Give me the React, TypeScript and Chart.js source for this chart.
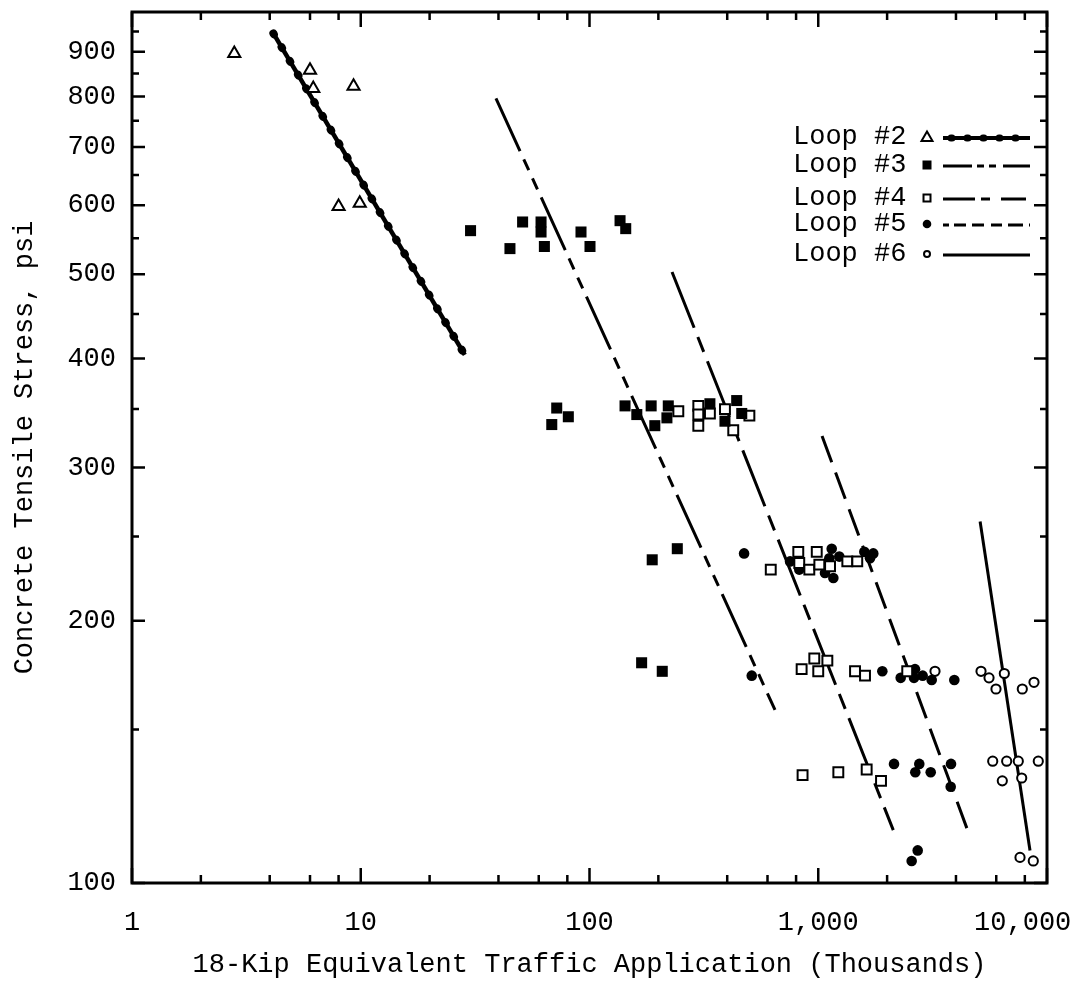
import { useEffect, useRef } from 'react';
import { Chart, registerables } from 'chart.js';

Chart.register(...registerables);

const FONT = '"Liberation Mono", "DejaVu Sans Mono", monospace';

// ---- measured points (x: thousands of 18-kip applications, y: psi) ----
const LOOP2_X = [2.8, 6.0, 6.2, 9.3, 8.0, 9.9];
const LOOP2_Y = [896, 857, 817, 822, 598, 603];

const LOOP3_X = [30.2, 44.9, 51.0, 61.4, 61.4, 63.5, 91.8, 100.5, 136, 144,
  71.9, 80.8, 68.4, 143, 161, 186, 193, 221, 218, 336, 391, 440, 463,
  188, 242, 169, 208];
const LOOP3_Y = [561, 535, 574, 574, 559, 538, 559, 538, 576, 564,
  351, 343, 336, 353, 345, 353, 335, 353, 342, 355, 339, 358, 346,
  235, 242, 179, 175];

const LOOP4_X = [244.5, 299, 299, 299, 336, 391, 425, 500,
  620, 818, 826, 914, 985, 1011, 1126, 1340, 1481,
  846, 961, 1000, 1096, 1448, 1601, 2449,
  854, 1224, 1628, 1881];
const LOOP4_Y = [348, 353, 345, 335, 346, 350, 331, 344,
  229, 240, 233, 229, 240, 232, 231, 234, 234,
  176, 181, 175, 180, 175, 173, 175,
  133, 134, 135, 131];

const LOOP5_X = [474, 753, 826, 1070, 1118, 1145, 1164, 1236, 1590, 1684, 1740,
  512, 1906, 2293, 2648, 2622, 2861, 3133, 3934,
  2144, 2765, 2656, 3102, 3805, 3793,
  2721, 2561];
const LOOP5_Y = [239, 234, 229, 227, 236, 242, 224, 237, 240, 236, 239,
  173, 175, 172, 176, 172, 173, 171, 171,
  137, 137, 134, 134, 137, 129,
  109, 106];

const LOOP6_X = [3239, 5147, 5579, 5984, 6508, 7799, 8773,
  5790, 6377, 6664, 7490, 7752, 9160,
  7621, 8711];
const LOOP6_Y = [175, 175, 172, 167, 174, 167, 170,
  138, 131, 138, 138, 132, 138,
  107, 106];

// ---- fatigue lines (end points) ----
const LINE2_X = [4.15, 28.5];
const LINE2_Y = [945, 404];
const LINE3_X = [39, 647];
const LINE3_Y = [796, 158];
const LINE4_X = [229.5, 2128];
const LINE4_Y = [503, 115];
const LINE5_X = [1039, 4608];
const LINE5_Y = [326, 113];
const LINE6_X = [5100, 8427];
const LINE6_Y = [260, 109];

// ---- axes ----
const X_TICKS = [1, 2, 4, 6, 8, 10, 20, 40, 60, 80, 100, 200, 400, 600, 800,
  1000, 2000, 4000, 6000, 8000, 10000];
const X_TICK_LABELS: Record<number, string> = {
  1: '1', 10: '10', 100: '100', 1000: '1,000', 10000: '10,000   ',
};
const Y_TICKS = [100, 150, 200, 250, 300, 350, 400, 450, 500, 550, 600, 650,
  700, 750, 800, 850, 900, 950];
const Y_TICK_LABELS: Record<number, string> = {
  100: '100', 200: '200', 300: '300', 400: '400', 500: '500',
  600: '600', 700: '700', 800: '800', 900: '900',
};
const X_TITLE = '18-Kip Equivalent Traffic Application (Thousands)';
const Y_TITLE = 'Concrete Tensile Stress, psi';

const LEGEND_LABELS = ['Loop #2', 'Loop #3', 'Loop #4', 'Loop #5', 'Loop #6'];

const pts = (xs: number[], ys: number[]) => xs.map((x, i) => ({ x, y: ys[i] }));
const isDecade = (v: number) => Math.abs(Math.log10(v) - Math.round(Math.log10(v))) < 1e-9;

type MarkerKind = 'triangle' | 'squareFilled' | 'squareOpen' | 'dotFilled' | 'dotOpen';

function drawMarker(ctx: CanvasRenderingContext2D, kind: MarkerKind, x: number, y: number) {
  ctx.save();
  ctx.lineWidth = 2;
  ctx.strokeStyle = '#000';
  ctx.beginPath();
  if (kind === 'triangle') {
    ctx.moveTo(x, y - 5.5);
    ctx.lineTo(x + 5.5, y + 4);
    ctx.lineTo(x - 5.5, y + 4);
    ctx.closePath();
    ctx.fillStyle = '#fff';
    ctx.fill();
    ctx.stroke();
  } else if (kind === 'squareFilled') {
    ctx.fillStyle = '#000';
    ctx.fillRect(x - 4.5, y - 4.5, 9, 9);
  } else if (kind === 'squareOpen') {
    ctx.rect(x - 3.5, y - 3.5, 7, 7);
    ctx.fillStyle = '#fff';
    ctx.fill();
    ctx.stroke();
  } else if (kind === 'dotFilled') {
    ctx.arc(x, y, 4.3, 0, Math.PI * 2);
    ctx.fillStyle = '#000';
    ctx.fill();
  } else {
    ctx.arc(x, y, 3, 0, Math.PI * 2);
    ctx.fillStyle = '#fff';
    ctx.fill();
    ctx.stroke();
  }
  ctx.restore();
}

const LEGEND_ROWS: { marker: MarkerKind; dash: number[] }[] = [
  { marker: 'triangle', dash: [] },
  { marker: 'squareFilled', dash: [29, 5, 7, 5, 7, 7, 28] },
  { marker: 'squareOpen', dash: [32, 6, 9, 11, 25] },
  { marker: 'dotFilled', dash: [6, 5, 12, 6, 12, 7, 11, 6, 15] },
  { marker: 'dotOpen', dash: [] },
];
const LEGEND_ROW_Y = [137, 165, 198, 224, 254];

const framePlugin = {
  id: 'frameTicks',
  afterDraw(chart: Chart) {
    const { ctx, chartArea: a } = chart;
    const xs = chart.scales.x;
    const ys = chart.scales.y;
    ctx.save();
    ctx.strokeStyle = '#000';
    ctx.lineWidth = 3;
    ctx.strokeRect(a.left, a.top, a.right - a.left, a.bottom - a.top);
    ctx.lineWidth = 2.5;
    ctx.beginPath();
    for (const t of xs.ticks) {
      const px = xs.getPixelForValue(t.value);
      const len = isDecade(t.value) ? 15 : 8;
      ctx.moveTo(px, a.bottom);
      ctx.lineTo(px, a.bottom - len);
      ctx.moveTo(px, a.top);
      ctx.lineTo(px, a.top + len);
    }
    for (const t of ys.ticks) {
      const py = ys.getPixelForValue(t.value);
      const len = t.value % 100 === 0 ? 13 : 7;
      ctx.moveTo(a.left, py);
      ctx.lineTo(a.left + len, py);
      ctx.moveTo(a.right, py);
      ctx.lineTo(a.right - len, py);
    }
    ctx.stroke();
    ctx.restore();
  },
};

const legendPlugin = {
  id: 'loopLegend',
  afterDraw(chart: Chart) {
    const { ctx } = chart;
    const textX = 793;
    const markX = 927;
    const lineX0 = 943;
    const lineX1 = 1030;
    ctx.save();
    ctx.fillStyle = '#000';
    ctx.font = `27px ${FONT}`;
    ctx.textAlign = 'left';
    ctx.textBaseline = 'middle';
    LEGEND_LABELS.forEach((label, i) => {
      const y = LEGEND_ROW_Y[i];
      const row = LEGEND_ROWS[i];
      ctx.fillStyle = '#000';
      ctx.fillText(label, textX, y);
      drawMarker(ctx, row.marker, markX, y);
      ctx.strokeStyle = '#000';
      ctx.lineWidth = i === 0 ? 4 : 3;
      ctx.setLineDash(row.dash);
      ctx.beginPath();
      ctx.moveTo(lineX0, y + 1);
      ctx.lineTo(lineX1, y + 1);
      ctx.stroke();
      ctx.setLineDash([]);
      if (i === 0) {
        ctx.lineWidth = 7;
        ctx.lineCap = 'round';
        ctx.setLineDash([1, 15]);
        ctx.beginPath();
        ctx.moveTo(lineX0 + 8, y + 1);
        ctx.lineTo(lineX1, y + 1);
        ctx.stroke();
        ctx.setLineDash([]);
        ctx.lineCap = 'butt';
      }
    });
    ctx.restore();
  },
};

const lineSet = (label: string, xs: number[], ys: number[], width: number, dash: number[]) => ({
  label,
  data: pts(xs, ys),
  showLine: true,
  borderColor: '#000',
  borderWidth: width,
  borderDash: dash,
  pointRadius: 0,
  fill: false,
  tension: 0,
});

export default function App() {
  const ref = useRef<HTMLCanvasElement>(null);

  useEffect(() => {
    if (!ref.current) return;
    const chart = new Chart(ref.current, {
      type: 'scatter',
      data: {
        datasets: [
          {
            label: 'Loop #2', data: pts(LOOP2_X, LOOP2_Y), pointStyle: 'triangle',
            pointRadius: 7, pointBorderWidth: 2, borderColor: '#000', backgroundColor: '#fff',
          },
          {
            label: 'Loop #3', data: pts(LOOP3_X, LOOP3_Y), pointStyle: 'rect',
            pointRadius: 7.8, pointBorderWidth: 0, borderColor: '#000', backgroundColor: '#000',
          },
          {
            label: 'Loop #4', data: pts(LOOP4_X, LOOP4_Y), pointStyle: 'rect',
            pointRadius: 7, pointBorderWidth: 2, borderColor: '#000', backgroundColor: '#fff',
          },
          {
            label: 'Loop #5', data: pts(LOOP5_X, LOOP5_Y), pointStyle: 'circle',
            pointRadius: 5.3, pointBorderWidth: 0, borderColor: '#000', backgroundColor: '#000',
          },
          {
            label: 'Loop #6', data: pts(LOOP6_X, LOOP6_Y), pointStyle: 'circle',
            pointRadius: 4.6, pointBorderWidth: 2, borderColor: '#000', backgroundColor: '#fff',
          },
          { ...lineSet('Loop #2 line beads', LINE2_X, LINE2_Y, 8, [1, 15]), borderCapStyle: 'round' },
          lineSet('Loop #2 line', LINE2_X, LINE2_Y, 4.5, []),
          lineSet('Loop #3 line', LINE3_X, LINE3_Y, 3, [58, 9, 12, 9, 12, 9]),
          lineSet('Loop #4 line', LINE4_X, LINE4_Y, 3, [60, 10, 16, 10]),
          lineSet('Loop #5 line', LINE5_X, LINE5_Y, 3, [28, 11]),
          lineSet('Loop #6 line', LINE6_X, LINE6_Y, 3, []),
        ] as any,
      },
      options: {
        animation: false,
        responsive: false,
        maintainAspectRatio: false,
        events: [],
        layout: { padding: { left: 0, top: 12, right: 27, bottom: 0 } },
        plugins: {
          legend: { display: false },
          tooltip: { enabled: false },
        },
        scales: {
          x: {
            type: 'logarithmic',
            position: 'bottom',
            min: 1,
            max: 10000,
            grid: { display: false },
            border: { display: false },
            afterBuildTicks: (s: any) => {
              s.ticks = X_TICKS.map((value) => ({ value }));
            },
            afterFit: (s: any) => {
              s.height = 101;
              s.paddingLeft = 0;
              s.paddingRight = 0;
            },
            ticks: {
              autoSkip: false,
              maxRotation: 0,
              minRotation: 0,
              padding: 16,
              color: '#000',
              font: { family: FONT, size: 27 },
              callback: (v: any) => X_TICK_LABELS[Number(v)] ?? '',
            },
            title: {
              display: true,
              text: X_TITLE,
              color: '#000',
              font: { family: FONT, size: 27 },
              padding: { top: 0, bottom: 3 },
            },
          },
          y: {
            type: 'logarithmic',
            position: 'left',
            min: 100,
            max: 1000,
            grid: { display: false },
            border: { display: false },
            afterBuildTicks: (s: any) => {
              s.ticks = Y_TICKS.map((value) => ({ value }));
            },
            afterFit: (s: any) => {
              s.width = 132;
              s.paddingTop = 0;
              s.paddingBottom = 0;
            },
            ticks: {
              autoSkip: false,
              padding: 8,
              color: '#000',
              font: { family: FONT, size: 27 },
              callback: (v: any) => Y_TICK_LABELS[Number(v)] ?? '',
            },
            title: {
              display: true,
              text: Y_TITLE,
              color: '#000',
              font: { family: FONT, size: 27 },
              padding: { top: 9, bottom: 0 },
            },
          },
        },
      } as any,
      plugins: [framePlugin, legendPlugin],
    });
    return () => chart.destroy();
  }, []);

  return (
    <div style={{ position: 'absolute', left: 0, top: 0, width: 1074, height: 984, background: '#fff' }}>
      <canvas ref={ref} width={1074} height={984} style={{ display: 'block', width: 1074, height: 984 }} />
    </div>
  );
}
